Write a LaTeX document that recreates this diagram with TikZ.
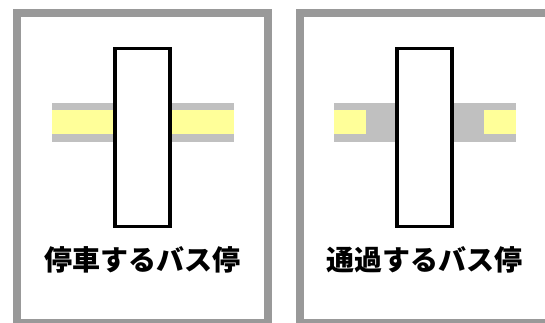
\documentclass[tikz,border=0pt]{standalone}
\usepackage{fontspec}
\newfontfamily\jpfont{Noto Sans CJK JP}
\usetikzlibrary{positioning}

\definecolor{framegray}{HTML}{999999}
\definecolor{roadgray}{HTML}{C0C0C0}
\definecolor{lane}{HTML}{FFFF99}

\begin{document}
\begin{tikzpicture}[x=1pt, y=-1pt,
  panel/.style={draw=framegray, line width=8pt},
  road/.style={fill=roadgray},
  lanepart/.style={fill=lane},
  busstop/.style={rectangle, draw=black, line width=3.3pt, fill=white, minimum width=55pt, minimum height=178.4pt, inner sep=0pt},
  caption/.style={font=\jpfont\bfseries\fontsize{28}{30}\selectfont, inner sep=0pt}
]
\useasboundingbox (0,0) rectangle (545,322);
\clip (0,0) rectangle (545,322);

% panels
\draw[panel] (17,13.3) rectangle (268,323.3);
\draw[panel] (300,13.3) rectangle (559,323.3);

% left: stopping bus stop
\fill[road] (52,102.7) rectangle (234,141.7);
\fill[lanepart] (52,110) rectangle (234,133.7);
\node[busstop] (stopA) at (142.5,137.5) {};
\node[caption] (labelA) at (142.5,260) {停車するバス停};

% right: passing bus stop
\fill[road] (334,102.7) rectangle (516,141.7);
\fill[lanepart] (334,110) rectangle (365.7,133.7);
\fill[lanepart] (484,110) rectangle (516,133.7);
\node[busstop] (stopB) at (424.5,137.5) {};
\node[caption] (labelB) at (424.5,260) {通過するバス停};

\end{tikzpicture}
\end{document}
